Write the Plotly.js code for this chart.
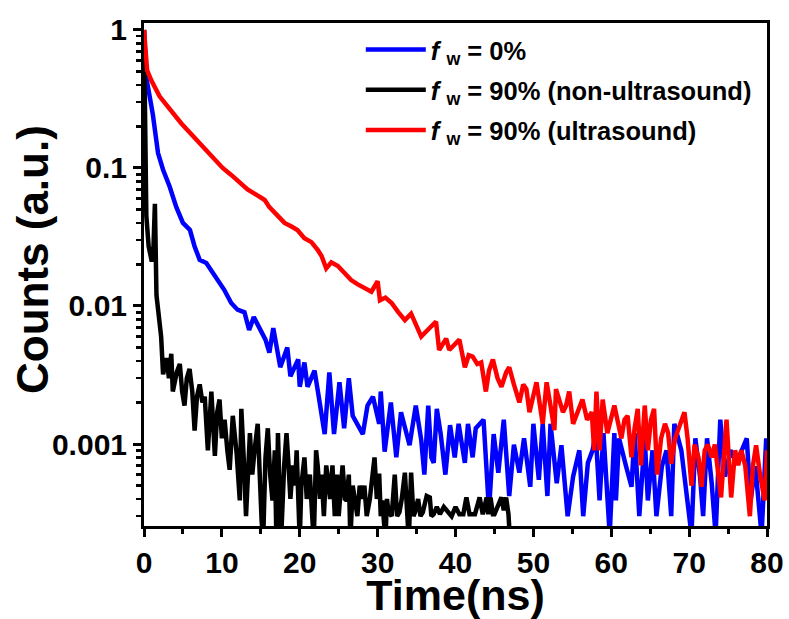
<!DOCTYPE html>
<html>
<head>
<meta charset="utf-8">
<script src="https://cdn.plot.ly/plotly-3.0.1.min.js"></script>
<style>html,body{margin:0;padding:0;background:#fff;}#chart{width:789px;height:619px;}</style>
</head>
<body>
<div id="chart"></div>
<script>
// ---- data ----
const seriesNames = [
  "<i>f</i> <sub>w</sub> = 0%",
  "<i>f</i> <sub>w</sub> = 90% (non-ultrasound)",
  "<i>f</i> <sub>w</sub> = 90% (ultrasound)"
];
const seriesColors = ["#0000ff", "#000000", "#ff0000"];

const tBlue = [0,0.15,0.3,0.95,1.15,1.8,2.45,3.3,4.15,5.0,5.9,6.5,7.15,8.0,8.65,9.5,10.3,11.2,12.0,12.9,13.5,14.1,15.6,16.1,16.6,17.5,18.4,18.8,19.8,20.0,20.6,21.0,21.9,22.5,23.2,23.8,24.4,25.1,25.7,26.3,26.8,28.1,28.7,29.4,30.2,30.4,30.9,31.7,32.4,33.0,34.1,34.9,35.6,36.0,36.5,36.9,37.2,37.6,38.1,38.7,39.3,39.9,40.4,41.2,41.6,42.2,42.6,43.6,44.0,44.3,44.9,45.5,46.2,46.9,47.5,48.2,48.8,49.6,50.0,50.7,51.2,51.8,52.2,53.0,53.6,54.4,55.1,55.9,56.4,57.0,57.6,58.0,58.5,59.0,59.8,60.4,60.6,61.0,61.9,62.6,63.0,63.6,64.3,64.7,65.3,65.8,66.5,67.1,67.7,68.1,69.0,70.3,70.8,71.4,71.8,72.3,72.9,73.4,74.0,74.6,75.3,76.1,77.4,77.9,78.5,79.3,79.9];
const yBlue = [1.0,0.6,0.45,0.28,0.24,0.128,0.097,0.073,0.052,0.040,0.0355,0.027,0.0216,0.0205,0.0182,0.0154,0.0131,0.0105,0.0094,0.009,0.0067,0.0083,0.0057,0.0046,0.0069,0.0036,0.0050,0.0031,0.0041,0.0026,0.0039,0.0026,0.0034,0.0021,0.00118,0.0033,0.00118,0.0028,0.0013,0.0030,0.0016,0.00118,0.0019,0.0022,0.0014,0.0024,0.00088,0.0020,0.0008,0.0017,0.00098,0.0019,0.00107,0.0006,0.0019,0.0008,0.00073,0.0018,0.00118,0.0006,0.00137,0.0008,0.0014,0.00073,0.0014,0.0008,0.0013,0.0015,0.00069,0.00033,0.00118,0.00062,0.0015,0.00042,0.00099,0.00062,0.0011,0.00049,0.0014,0.00055,0.0014,0.00042,0.0014,0.00052,0.00098,0.0003,0.00058,0.0009,0.0003,0.00073,0.0009,0.0012,0.00039,0.0012,0.00022,0.0012,0.00039,0.0011,0.00069,0.00049,0.0012,0.0003,0.0011,0.00039,0.0009,0.0003,0.00069,0.0009,0.0003,0.0014,0.0009,0.00022,0.0011,0.00058,0.0003,0.0011,0.00052,0.00022,0.0015,0.00058,0.0009,0.00073,0.0011,0.00039,0.00069,0.00022,0.0011];

const tBlack = [0,0.1,0.3,0.6,1.0,1.2,1.4,1.6,1.9,2.2,2.45,2.9,3.2,3.5,3.7,3.9,4.2,4.6,4.9,5.2,5.5,5.85,6.2,6.5,6.8,7.15,7.5,7.8,8.2,8.65,9.1,9.4,9.7,10.0,10.35,10.7,11.0,11.4,11.9,12.3,12.5,12.8,13.1,13.6,13.9,14.2,14.6,15.1,15.3,15.6,15.9,16.2,16.5,16.8,17.0,17.2,17.4,17.6,18.0,18.3,18.5,18.8,19.1,19.4,19.6,20.0,20.2,20.6,20.9,21.3,21.6,21.8,22.1,22.3,22.6,22.8,23.1,23.4,23.7,23.9,24.2,24.5,24.8,25.0,25.3,25.5,25.8,26.0,26.3,26.5,26.8,27.1,27.4,27.7,28.0,28.3,28.6,29.0,29.3,29.6,29.9,30.2,30.4,30.6,31.0,31.2,31.4,31.8,32.2,32.5,32.8,33.1,33.5,33.8,34.0,34.3,34.6,34.8,35.2,35.5,35.8,36.3,36.7,36.9,37.2,37.6,38.0,38.5,39.0,39.5,40.0,40.5,41.0,41.4,41.8,42.5,43.1,43.5,44.0,44.2,44.5,44.8,45.0,45.9,46.2,46.5,46.8,47.0];
const yBlack = [1.0,0.3,0.045,0.027,0.021,0.025,0.055,0.012,0.0085,0.006,0.0032,0.0042,0.0030,0.0045,0.0024,0.0027,0.0033,0.0038,0.0024,0.0019,0.0030,0.0035,0.0024,0.00125,0.0022,0.0027,0.0020,0.0022,0.0009,0.0024,0.00082,0.0017,0.0021,0.0011,0.0015,0.0009,0.00065,0.0016,0.00085,0.00039,0.0018,0.0008,0.0003,0.0012,0.0006,0.0009,0.0014,0.00028,0.0002,0.0008,0.0013,0.0006,0.00039,0.0009,0.0002,0.0012,0.0005,0.0002,0.0007,0.0012,0.0008,0.0004,0.0007,0.0005,0.0009,0.0002,0.0005,0.0008,0.0004,0.0006,0.0003,0.0002,0.0009,0.0007,0.0004,0.0006,0.0003,0.0007,0.0005,0.0004,0.0007,0.0003,0.0006,0.0003,0.0005,0.0007,0.0004,0.00039,0.0006,0.0002,0.0005,0.0004,0.0003,0.0005,0.0004,0.0005,0.0003,0.0004,0.0006,0.0008,0.0004,0.00061,0.0003,0.00039,0.0002,0.0004,0.00032,0.0003,0.0006,0.0003,0.00032,0.0004,0.00062,0.0003,0.0002,0.00062,0.0003,0.00032,0.0004,0.0003,0.00032,0.00042,0.00041,0.0003,0.00031,0.00035,0.00031,0.00035,0.00032,0.0003,0.00035,0.00031,0.00031,0.00041,0.00031,0.00031,0.00041,0.00031,0.00041,0.00031,0.00041,0.00031,0.00031,0.00041,0.00033,0.00041,0.00031,0.0002];

const tRed = [0,0.15,0.4,0.95,1.5,2.0,2.8,3.7,4.8,5.9,7.0,8.0,9.0,10.1,11.2,12.3,13.3,14.4,15.5,16.1,17.0,18.05,19.0,19.7,20.6,21.5,22.3,22.8,23.4,24.05,24.9,25.8,26.6,27.4,28.3,29.2,30.0,30.3,31.0,31.8,32.6,33.5,34.3,35.0,35.6,36.2,36.7,37.5,37.9,38.8,39.2,39.8,40.5,41.2,41.7,42.2,42.8,43.3,43.9,44.3,44.8,45.4,45.9,46.5,46.9,47.5,48.2,48.7,49.1,49.5,50.0,50.4,51.2,51.7,52.2,52.7,52.9,53.8,54.2,54.6,55.1,55.7,56.3,56.9,57.5,57.8,58.1,58.5,58.9,59.5,60.0,60.4,61.3,61.7,62.1,62.6,63.0,63.4,63.8,64.3,64.7,65.1,65.5,65.9,66.4,66.9,67.3,67.7,68.2,68.8,69.4,69.8,70.3,70.7,71.2,71.6,72.0,72.4,72.9,73.3,73.7,74.1,74.8,75.4,75.9,76.3,76.7,77.2,77.8,78.2,78.6,79.1,79.7,80.0];
const yRed = [1.0,0.78,0.51,0.43,0.38,0.33,0.29,0.25,0.21,0.18,0.155,0.135,0.118,0.10,0.089,0.078,0.070,0.064,0.0586,0.052,0.046,0.040,0.0375,0.0355,0.031,0.029,0.0255,0.023,0.0187,0.0207,0.0195,0.0173,0.0154,0.0144,0.0136,0.0127,0.0151,0.0110,0.0115,0.0105,0.0091,0.0079,0.0088,0.0073,0.0060,0.0065,0.0069,0.0077,0.0048,0.0058,0.0048,0.0052,0.0057,0.0036,0.0044,0.0043,0.0038,0.0039,0.0024,0.0034,0.0041,0.0030,0.0026,0.0033,0.0036,0.0027,0.0020,0.0027,0.0025,0.0017,0.0023,0.0028,0.0014,0.0028,0.0019,0.00126,0.0025,0.0017,0.0019,0.0024,0.0014,0.00176,0.0021,0.0015,0.0017,0.0009,0.0024,0.0009,0.0021,0.0012,0.0016,0.0019,0.0011,0.0015,0.0016,0.0008,0.0013,0.0018,0.0007,0.0019,0.0009,0.0015,0.0018,0.0006,0.0011,0.0014,0.0012,0.00072,0.0011,0.0014,0.0017,0.0011,0.0005,0.00099,0.0008,0.00049,0.0009,0.00099,0.0008,0.00099,0.0006,0.00041,0.0015,0.00041,0.0009,0.0007,0.0009,0.0007,0.0003,0.0007,0.00098,0.0006,0.00039,0.0009];

const xTickVals = [0,10,20,30,40,50,60,70,80];
const yTickVals = [0.001,0.01,0.1,1];
const yTickText = ["0.001","0.01","0.1","1"];

// minor ticks on the log axis: 2..9 within each decade
const yMinor = [];
[0.0001,0.001,0.01,0.1].forEach(d => { for (let k = 2; k <= 9; k++) yMinor.push(d*k); });

const FONT = "Liberation Sans, Arial, sans-serif";

const xs = [tBlue, tBlack, tRed];
const ys = [yBlue, yBlack, yRed];
const traces = xs.map((x, i) => ({
  x: x, y: ys[i], type: "scatter", mode: "lines",
  name: seriesNames[i], legendgroup: "g" + i,
  line: {color: seriesColors[i], width: 4.5}
}));

const axisCommon = {
  showline: true, linewidth: 3, linecolor: "#000", mirror: true,
  ticks: "outside", tickwidth: 3, ticklen: 8, tickcolor: "#000",
  showgrid: false, zeroline: false,
  tickfont: {family: FONT, size: 30, color: "#000", weight: "bold"}
};

const layout = {
  width: 789, height: 619,
  margin: {l: 144, r: 22, t: 23, b: 93},
  paper_bgcolor: "#fff", plot_bgcolor: "#fff",
  showlegend: true,
  legend: {
    x: 0.348, y: 0.993, xanchor: "left", yanchor: "top",
    bgcolor: "rgba(0,0,0,0)", borderwidth: 0,
    traceorder: "grouped", tracegroupgap: 4,
    itemwidth: 60,
    font: {family: FONT, size: 25.5, color: "#000", weight: "bold"}
  },
  xaxis: Object.assign({}, axisCommon, {
    range: [0, 80], tickmode: "array", tickvals: xTickVals,
    minor: {ticks: "outside", dtick: 5, ticklen: 5, tickwidth: 3, tickcolor: "#000"},
    title: {text: "Time(ns)", standoff: 13, font: {family: FONT, size: 43, color: "#000", weight: "bold"}}
  }),
  yaxis: Object.assign({}, axisCommon, {
    type: "log", range: [-3.594, 0.05],
    tickmode: "array", tickvals: yTickVals, ticktext: yTickText,
    minor: {ticks: "outside", tickmode: "array", tickvals: yMinor, ticklen: 5, tickwidth: 2.5, tickcolor: "#000"},
    title: {text: ""}
  }),
  annotations: [{
    text: "Counts (a.u.)", xref: "paper", yref: "paper",
    x: -0.178, y: 0.529, xanchor: "center", yanchor: "middle",
    textangle: -90, showarrow: false,
    font: {family: FONT, size: 44, color: "#000", weight: "bold"}
  }]
};

Plotly.newPlot("chart", traces, layout, {displayModeBar: false, staticPlot: true});
</script>
</body>
</html>
